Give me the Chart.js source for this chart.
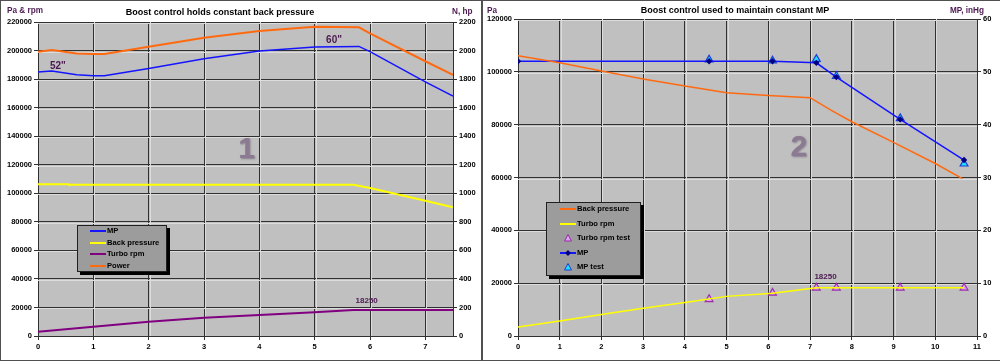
<!DOCTYPE html>
<html>
<head>
<meta charset="utf-8">
<script src="https://cdn.jsdelivr.net/npm/chart.js@4.4.1/dist/chart.umd.min.js"></script>
<style>
  body { margin: 0; width: 1000px; height: 363px; overflow: hidden; position: relative; background: #fff;
         font-family: "Liberation Sans", Arial, sans-serif; }
  .frame { position: absolute; top: 0; height: 361px; box-sizing: border-box; border: 1px solid #505050; }
  #f1 { left: 0; width: 482px; }
  #f2 { left: 482px; width: 520px; }
  canvas { position: absolute; top: 0; }
  .ttl { position: absolute; font-weight: bold; font-size: 9px; line-height: 10px; white-space: nowrap; transform: translateX(-50%); }
  .unit { position: absolute; font-weight: bold; font-size: 8.2px; line-height: 9px; color: #4b1850; white-space: nowrap; }
  .legend { position: absolute; background: #9c9c9c; border: 1px solid #202020; box-shadow: 3px 3px 0 #000;
            font-weight: bold; font-size: 7.6px; box-sizing: border-box; }
  .legend .row { position: absolute; height: 10px; line-height: 10px; white-space: nowrap; }
  .legend svg { position: absolute; top: 0; }
  .legend span { position: absolute; top: 0; }
</style>
</head>
<body>
<div class="frame" id="f1"></div>
<div class="frame" id="f2"></div>
<canvas id="c1" width="480" height="360" style="left:0"></canvas>
<canvas id="c2" width="517" height="360" style="left:483px"></canvas>

<div class="ttl" style="left:220px;top:7px">Boost control holds constant back pressure</div>
<div class="ttl" style="left:735px;top:5px">Boost control used to maintain constant MP</div>
<div class="unit" style="left:7px;top:6px">Pa &amp; rpm</div>
<div class="unit" style="left:452px;top:7px">N, hp</div>
<div class="unit" style="left:487px;top:6px">Pa</div>
<div class="unit" style="left:950px;top:6px">MP, inHg</div>

<div class="legend" id="lg1" style="left:77px;top:225px;width:90px;height:47px"></div>
<div class="legend" id="lg2" style="left:546px;top:202px;width:95px;height:74px"></div>

<script>
// ---- chart 1: boost control holds constant back pressure ----
const mpX      = [0, 0.25, 0.7, 1, 1.2, 2, 3, 4, 5, 5.8, 6, 7, 7.5];
const mpPa     = [185000, 185600, 183000, 182400, 182400, 187500, 194200, 199700, 202400, 202900, 199200, 178100, 168100];
const powerHp  = [1992, 2004, 1980, 1976, 1976, 2027, 2090, 2137, 2166, 2163, 2121, 1925, 1829];
const bpX      = [0, 0.55, 0.56, 5.7, 6, 7, 7.5];
const bpPa     = [106300, 106300, 106000, 106000, 103700, 94800, 90200];
const rpmX     = [0, 1, 2, 3, 4, 5, 5.7, 7.5];
const rpm      = [3000, 6500, 10000, 12800, 14700, 16600, 18250, 18250];

// ---- chart 2: boost control used to maintain constant MP ----
const bp2X     = [0, 1, 2, 3, 4, 5, 6, 7, 7.5, 8, 9, 10, 10.65];
const bp2Pa    = [106100, 103450, 100300, 97300, 94600, 92100, 91000, 90200, 85500, 81100, 73300, 65300, 59600];
const rpm2X    = [0, 1, 2, 3, 4, 5, 6.1, 7.15, 10.69];
const rpm2     = [3400, 5700, 8100, 10500, 12650, 15000, 16200, 18250, 18250];
const testX    = [4.58, 6.1, 7.15, 7.63, 9.16, 10.69];
const rpmTest  = [13900, 16300, 18250, 18250, 18250, 18250];
const mp2X     = [0, 4.58, 6.1, 7.15, 7.63, 9.16, 10.69];
const mpInHg   = [52, 52, 52, 51.7, 49, 41, 33.3];
const mpTest   = [52.3, 52.1, 52.4, 49.2, 41.2, 32.6];

const zip = (xs, ys) => xs.map((x, i) => ({x: x, y: ys[i]}));
const FONT = '"Liberation Sans", Arial, sans-serif';
const tickFont = {family: FONT, size: 7.5, weight: 'bold'};
const GRID = '#303030';

// grey plot area, light bevel next to grid lines, text notes at data coords
const plotDeco = {
  id: 'plotDeco',
  beforeDraw(chart) {
    const a = chart.chartArea, ctx = chart.ctx;
    ctx.save();
    ctx.fillStyle = '#c0c0c0';
    ctx.fillRect(a.left, a.top, a.right - a.left, a.bottom - a.top);
    ctx.restore();
  },
  beforeDatasetsDraw(chart) {
    const a = chart.chartArea, ctx = chart.ctx;
    const xs = chart.scales.x, ys = chart.scales.y;
    ctx.save();
    ctx.strokeStyle = '#dcdcdc';
    ctx.lineWidth = 1;
    ctx.beginPath();
    xs.ticks.forEach(t => {
      const px = Math.round(xs.getPixelForValue(t.value)) + 1.5;
      if (px > a.left + 2 && px < a.right - 1) { ctx.moveTo(px, a.top); ctx.lineTo(px, a.bottom); }
    });
    ys.ticks.forEach(t => {
      const py = Math.round(ys.getPixelForValue(t.value)) + 1.5;
      if (py > a.top + 1 && py < a.bottom - 2) { ctx.moveTo(a.left, py); ctx.lineTo(a.right, py); }
    });
    ctx.stroke();
    ctx.restore();
  },
  afterDatasetsDraw(chart, args, opts) {
    const ctx = chart.ctx;
    (opts.notes || []).forEach(n => {
      const sy = chart.scales[n.axis || 'y'];
      const px = chart.scales.x.getPixelForValue(n.x), py = sy.getPixelForValue(n.y);
      ctx.save();
      ctx.font = n.font;
      ctx.fillStyle = n.color;
      ctx.textAlign = 'center';
      ctx.textBaseline = 'middle';
      if (n.shadow) { ctx.shadowColor = 'rgba(60,40,70,0.45)'; ctx.shadowBlur = 2; ctx.shadowOffsetX = 1; ctx.shadowOffsetY = 1; }
      ctx.fillText(n.text, px, py);
      ctx.restore();
    });
  }
};

function axisX(max, height) {
  return {
    type: 'linear', min: 0, max: max,
    afterFit: s => { s.height = height; },
    afterBuildTicks: s => { s.ticks = s.ticks.filter(t => Number.isInteger(t.value)); },
    ticks: {stepSize: 1, font: tickFont, color: '#000', padding: 2, maxRotation: 0, callback: v => String(v)},
    grid: {color: GRID, tickLength: 4},
    border: {color: GRID}
  };
}
function axisY(max, step, width, pos, grid) {
  return {
    type: 'linear', position: pos, min: 0, max: max,
    afterFit: s => { s.width = width; },
    ticks: {stepSize: step, font: tickFont, color: '#000', padding: 2, callback: v => String(v)},
    grid: {color: GRID, tickLength: 4, drawOnChartArea: grid},
    border: {color: GRID}
  };
}

function line(label, data, color, width, axis) {
  return {label: label, data: data, borderColor: color, backgroundColor: color, borderWidth: width,
          pointRadius: 0, yAxisID: axis, tension: 0};
}

new Chart(document.getElementById('c1'), {
  type: 'line',
  data: {
    datasets: [
      line('MP', zip(mpX, mpPa), '#1414ff', 1.5, 'y'),
      line('Back pressure', zip(bpX, bpPa), '#ffff00', 2, 'y'),
      line('Turbo rpm', zip(rpmX, rpm), '#800080', 2, 'y'),
      line('Power', zip(mpX, powerHp), '#ff6a10', 2, 'y1')
    ]
  },
  options: {
    responsive: false, animation: false, events: [],
    layout: {padding: {top: 22, left: 0, right: 0, bottom: 0}},
    scales: {
      x: axisX(7.5, 24),
      y: axisY(220000, 20000, 38, 'left', true),
      y1: axisY(2200, 200, 27, 'right', false)
    },
    plugins: {
      legend: {display: false}, tooltip: {enabled: false},
      plotDeco: {notes: [
        {x: 0.36, y: 188700, text: '52"', font: 'bold 10px ' + FONT, color: '#4b1850'},
        {x: 5.35, y: 207400, text: '60"', font: 'bold 10px ' + FONT, color: '#4b1850'},
        {x: 5.94, y: 24700, text: '18250', font: 'bold 8px ' + FONT, color: '#4b1850'},
        {x: 3.77, y: 130300, text: '1', font: 'bold 30px ' + FONT, color: '#8c7a92', shadow: true}
      ]}
    }
  },
  plugins: [plotDeco]
});

new Chart(document.getElementById('c2'), {
  type: 'line',
  data: {
    datasets: [
      line('Back pressure', zip(bp2X, bp2Pa), '#ff6a10', 1.5, 'y'),
      line('Turbo rpm', zip(rpm2X, rpm2), '#ffff00', 1.5, 'y'),
      {label: 'Turbo rpm test', data: zip(testX, rpmTest), showLine: false, yAxisID: 'y',
       pointStyle: 'triangle', pointRadius: 4.5, pointBorderWidth: 1.2,
       pointBorderColor: '#9a2fa8', pointBackgroundColor: '#d9a0f0'},
      {label: 'MP', data: zip(mp2X, mpInHg), yAxisID: 'y1', borderColor: '#1414ff', borderWidth: 1.5,
       pointStyle: 'rectRot', pointRadius: 3.2, pointBorderWidth: 0, pointBackgroundColor: '#000080', tension: 0},
      {label: 'MP test', data: zip(testX, mpTest), showLine: false, yAxisID: 'y1',
       pointStyle: 'triangle', pointRadius: 4.5, pointBorderWidth: 1.2,
       pointBorderColor: '#1c3cd8', pointBackgroundColor: '#22e0ff'}
    ]
  },
  options: {
    responsive: false, animation: false, events: [],
    layout: {padding: {top: 19, left: 0, right: 0, bottom: 0}},
    scales: {
      x: axisX(11, 24),
      y: axisY(120000, 20000, 35, 'left', true),
      y1: axisY(60, 10, 23, 'right', false)
    },
    plugins: {
      legend: {display: false}, tooltip: {enabled: false},
      plotDeco: {notes: [
        {x: 7.37, y: 22350, text: '18250', font: 'bold 8px ' + FONT, color: '#4b1850'},
        {x: 6.73, y: 71100, text: '2', font: 'bold 30px ' + FONT, color: '#8c7a92', shadow: true}
      ]}
    }
  },
  plugins: [plotDeco]
});

// in-plot legends, Excel style
function sample(kind, color, edge) {
  if (kind === 'line') return '<line x1="0" y1="5" x2="16" y2="5" stroke="' + color + '" stroke-width="2"/>';
  if (kind === 'tri') return '<polygon points="8,1.5 11.5,8 4.5,8" fill="' + color + '" stroke="' + edge + '" stroke-width="1"/>';
  return '<line x1="0" y1="5" x2="16" y2="5" stroke="' + color + '" stroke-width="2"/>' +
         '<polygon points="8,2 11,5 8,8 5,5" fill="' + edge + '"/>';
}
function buildLegend(id, items, x0, top0, gap) {
  const box = document.getElementById(id);
  items.forEach((it, i) => {
    const row = document.createElement('div');
    row.className = 'row';
    row.style.left = x0 + 'px';
    row.style.top = (top0 + i * gap) + 'px';
    row.innerHTML = '<svg width="16" height="10">' + sample(it[1], it[2], it[3]) + '</svg>' +
                    '<span style="left:17px">' + it[0] + '</span>';
    box.appendChild(row);
  });
}
buildLegend('lg1', [
  ['MP', 'line', '#1414ff'], ['Back pressure', 'line', '#ffff00'],
  ['Turbo rpm', 'line', '#800080'], ['Power', 'line', '#ff6a10']
], 12, 0, 11.5);
buildLegend('lg2', [
  ['Back pressure', 'line', '#ff6a10'], ['Turbo rpm', 'line', '#ffff00'],
  ['Turbo rpm test', 'tri', '#d9a0f0', '#9a2fa8'], ['MP', 'mark', '#1414ff', '#000080'],
  ['MP test', 'tri', '#22e0ff', '#1c3cd8']
], 13, 1, 14.5);
</script>
</body>
</html>
